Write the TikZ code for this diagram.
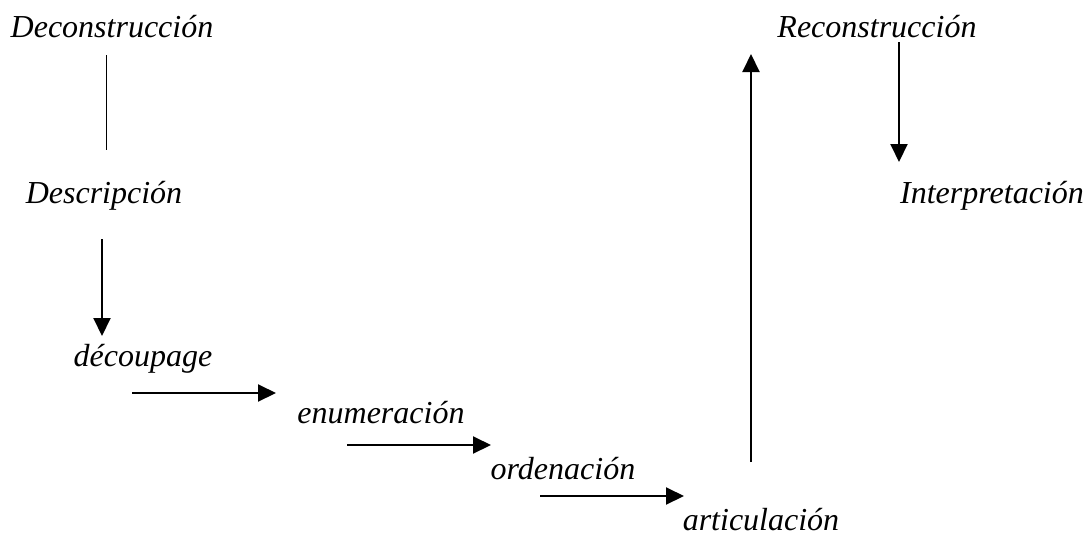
\documentclass[tikz,border=0pt]{standalone}
\usepackage{fontspec}
\setmainfont{Liberation Serif}
\usetikzlibrary{arrows.meta}
\begin{document}
\begin{tikzpicture}[x=1pt, y=-1pt,
    word/.style = {font=\fontsize{32}{38}\selectfont\itshape, inner sep=0pt, anchor=base},
    arr/.style = {line width=2pt, -{Triangle[length=18pt,width=17pt]}}]
    \useasboundingbox (0,0) rectangle (1087,539);

    \node[word] (decon) at (112,37) {Deconstrucción};
    \node[word] (desc) at (104,203) {Descripción};
    \node[word] (decoup) at (143,366) {découpage};
    \node[word] (enum) at (381,423) {enumeración};
    \node[word] (orden) at (563,479) {ordenación};
    \node[word] (artic) at (761,530) {articulación};
    \node[word] (recon) at (877,37) {Reconstrucción};
    \node[word] (interp) at (992,203) {Interpretación};

    \coordinate (a1) at (106,55);   \coordinate (b1) at (106,150);
    \coordinate (a2) at (102,239);  \coordinate (b2) at (102,336);
    \coordinate (a3) at (132,393);  \coordinate (b3) at (276,393);
    \coordinate (a4) at (347,445);  \coordinate (b4) at (491,445);
    \coordinate (a5) at (540,496);  \coordinate (b5) at (684,496);
    \coordinate (a6) at (751,462);  \coordinate (b6) at (751,54);
    \coordinate (a7) at (899,42);   \coordinate (b7) at (899,162);

    \draw[line width=0.8pt] (a1) -- (b1);
    \draw[arr] (a2) -- (b2);
    \draw[arr] (a3) -- (b3);
    \draw[arr] (a4) -- (b4);
    \draw[arr] (a5) -- (b5);
    \draw[arr] (a6) -- (b6);
    \draw[arr] (a7) -- (b7);
\end{tikzpicture}
\end{document}
